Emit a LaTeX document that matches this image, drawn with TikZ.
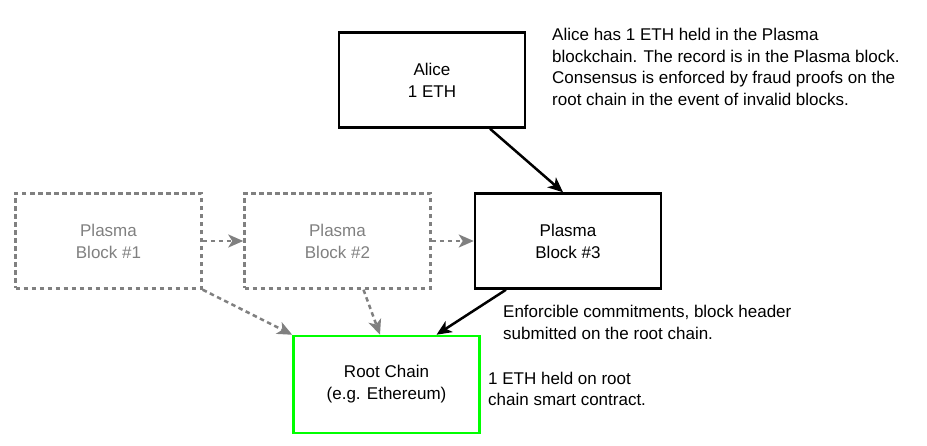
\documentclass[tikz,border=0pt]{standalone}
\usepackage{fontspec}
\setmainfont{Liberation Sans}
\usetikzlibrary{arrows.meta}
\definecolor{ghostgray}{RGB}{128,128,128}
\definecolor{rootgreen}{RGB}{0,255,0}
\tikzset{
  blk/.style={draw=black, line width=2.5pt, minimum width=186pt, minimum height=95pt,
    align=center, inner sep=0pt, font=\fontsize{17}{22}\selectfont},
  ghostblk/.style={blk, draw=ghostgray, text=ghostgray, dash pattern=on 4.5pt off 3.5pt},
  rootblk/.style={blk, draw=rootgreen, minimum height=97pt},
  note/.style={anchor=west, align=left, inner sep=0pt, font=\fontsize{17}{21.5}\selectfont},
  solidarrow/.style={line width=2.5pt, -{Stealth[length=15pt,width=13pt,inset=4pt]}},
  ghostarrow/.style={line width=2.5pt, ghostgray, dash pattern=on 4.5pt off 3.5pt,
    -{Stealth[length=15pt,width=13pt,inset=4pt,sep=0pt]}},
}
\begin{document}
\begin{tikzpicture}[x=1pt,y=-1pt]
\useasboundingbox (0,0) rectangle (927,446);
\node[blk] (alice) at (432,80) {Alice\\1 ETH};
\node[ghostblk] (b1) at (108.5,241) {Plasma\\Block \#1};
\node[ghostblk] (b2) at (337.5,241) {Plasma\\Block \#2};
\node[blk] (b3) at (568,241) {Plasma\\Block \#3};
\node[rootblk] (root) at (386.5,384.5) {Root Chain\\(e.g. Ethereum)};

\node[note] (alicenote) at (552,67) {Alice has 1 ETH held in the Plasma\\blockchain. The record is in the Plasma block.\\Consensus is enforced by fraud proofs on the\\root chain in the event of invalid blocks.};
\node[note] (commitnote) at (503,322.5) {Enforcible commitments, block header\\submitted on the root chain.};
\node[note] (rootnote) at (488,389) {1 ETH held on root\\chain smart contract.};

\draw[solidarrow] ([xshift=58pt]alice.south) -- ([xshift=-5pt]b3.north);
\draw[solidarrow] ([xshift=-62pt]b3.south) -- ([xshift=50pt]root.north);
\draw[ghostarrow] (b1.east) -- (b2.west);
\draw[ghostarrow] (b2.east) -- (b3.west);
\draw[ghostarrow] (b1.south east) -- (root.north west);
\draw[ghostarrow] ([xshift=26pt]b2.south) -- ([xshift=-6.5pt]root.north);
\end{tikzpicture}
\end{document}
